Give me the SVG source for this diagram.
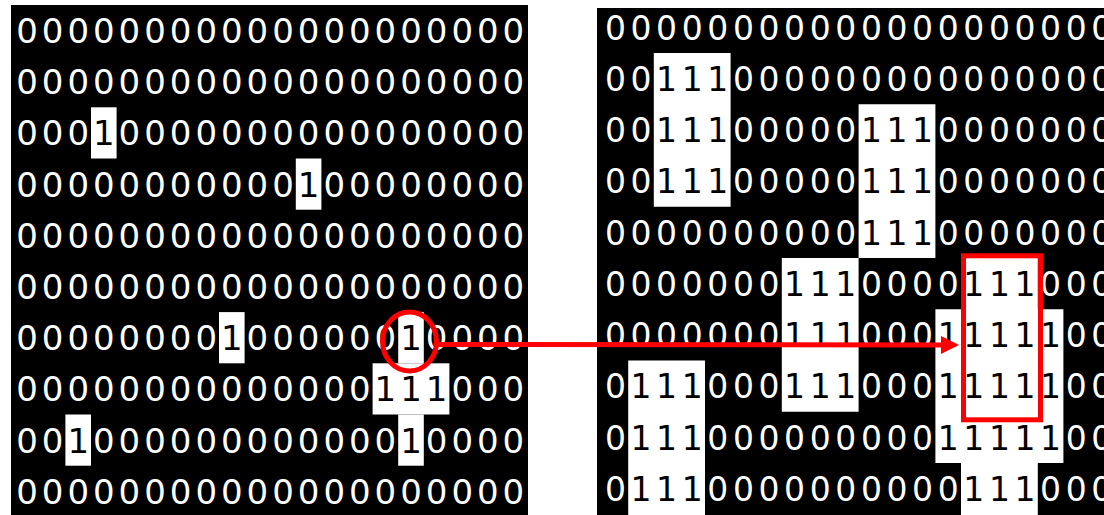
<svg xmlns="http://www.w3.org/2000/svg" width="1104" height="515" viewBox="0 0 1104 515">
<style>
.bg{fill:#000}
.hl{fill:#fff}
.d{font-family:"DejaVu Sans",sans-serif;fill:#fff;text-anchor:middle}
.dl{font-size:34px}
.dr{font-size:33px}
.one{fill:#000}
.red{fill:none;stroke:#ff0000;stroke-width:5}
</style>
<defs>
<marker id="ah" viewBox="0 0 18 18" refX="0" refY="9" markerWidth="18" markerHeight="18" markerUnits="userSpaceOnUse" orient="auto">
<path d="M0,0 L18,9 L0,18 Z" fill="#ff0000"/>
</marker>
</defs>
<rect width="1104" height="515" fill="#fff"/>
<g id="left-grid">
<rect class="bg" x="11" y="5" width="517" height="510"/>
<rect class="hl" x="91" y="107.3" width="25.6" height="51.2"/>
<rect class="hl" x="295.8" y="158.5" width="25.6" height="51.2"/>
<rect class="hl" x="219" y="312.1" width="25.6" height="51.2"/>
<rect class="hl" x="398.2" y="312.1" width="25.6" height="51.2"/>
<rect class="hl" x="372.6" y="363.3" width="76.8" height="51.2"/>
<rect class="hl" x="65.4" y="414.5" width="25.6" height="51.2"/>
<rect class="hl" x="398.2" y="414.5" width="25.6" height="51.2"/>
<g class="d dl">
<text x="27 52.6 78.2 103.8 129.4 155 180.6 206.2 231.8 257.4 283 308.6 334.2 359.8 385.4 411 436.6 462.2 487.8 513.4" y="42.9">00000000000000000000</text>
<text x="27 52.6 78.2 103.8 129.4 155 180.6 206.2 231.8 257.4 283 308.6 334.2 359.8 385.4 411 436.6 462.2 487.8 513.4" y="94.1">00000000000000000000</text>
<text x="27 52.6 78.2 103.8 129.4 155 180.6 206.2 231.8 257.4 283 308.6 334.2 359.8 385.4 411 436.6 462.2 487.8 513.4" y="145.3">000<tspan class="one">1</tspan>0000000000000000</text>
<text x="27 52.6 78.2 103.8 129.4 155 180.6 206.2 231.8 257.4 283 308.6 334.2 359.8 385.4 411 436.6 462.2 487.8 513.4" y="196.5">00000000000<tspan class="one">1</tspan>00000000</text>
<text x="27 52.6 78.2 103.8 129.4 155 180.6 206.2 231.8 257.4 283 308.6 334.2 359.8 385.4 411 436.6 462.2 487.8 513.4" y="247.7">00000000000000000000</text>
<text x="27 52.6 78.2 103.8 129.4 155 180.6 206.2 231.8 257.4 283 308.6 334.2 359.8 385.4 411 436.6 462.2 487.8 513.4" y="298.9">00000000000000000000</text>
<text x="27 52.6 78.2 103.8 129.4 155 180.6 206.2 231.8 257.4 283 308.6 334.2 359.8 385.4 411 436.6 462.2 487.8 513.4" y="350.1">00000000<tspan class="one">1</tspan>000000<tspan class="one">1</tspan>0000</text>
<text x="27 52.6 78.2 103.8 129.4 155 180.6 206.2 231.8 257.4 283 308.6 334.2 359.8 385.4 411 436.6 462.2 487.8 513.4" y="401.3">00000000000000<tspan class="one">111</tspan>000</text>
<text x="27 52.6 78.2 103.8 129.4 155 180.6 206.2 231.8 257.4 283 308.6 334.2 359.8 385.4 411 436.6 462.2 487.8 513.4" y="452.5">00<tspan class="one">1</tspan>000000000000<tspan class="one">1</tspan>0000</text>
<text x="27 52.6 78.2 103.8 129.4 155 180.6 206.2 231.8 257.4 283 308.6 334.2 359.8 385.4 411 436.6 462.2 487.8 513.4" y="503.7">00000000000000000000</text>
</g>
</g>
<g id="right-grid">
<rect class="bg" x="597" y="8" width="507" height="507"/>
<rect class="hl" x="653.8" y="53" width="76.8" height="153.75"/>
<rect class="hl" x="858.6" y="104.25" width="76.8" height="153.75"/>
<rect class="hl" x="781.8" y="258" width="76.8" height="153.75"/>
<rect class="hl" x="628.2" y="360.5" width="76.8" height="154.5"/>
<rect class="hl" x="961" y="258" width="76.8" height="257"/>
<rect class="hl" x="935.4" y="309.25" width="128" height="153.75"/>
<g class="d dr">
<text x="615.4 641 666.6 692.2 717.8 743.4 769 794.6 820.2 845.8 871.4 897 922.6 948.2 973.8 999.4 1025 1050.6 1076.2 1101.8" y="39.5">00000000000000000000</text>
<text x="615.4 641 666.6 692.2 717.8 743.4 769 794.6 820.2 845.8 871.4 897 922.6 948.2 973.8 999.4 1025 1050.6 1076.2 1101.8" y="90.75">00<tspan class="one">111</tspan>000000000000000</text>
<text x="615.4 641 666.6 692.2 717.8 743.4 769 794.6 820.2 845.8 871.4 897 922.6 948.2 973.8 999.4 1025 1050.6 1076.2 1101.8" y="142">00<tspan class="one">111</tspan>00000<tspan class="one">111</tspan>0000000</text>
<text x="615.4 641 666.6 692.2 717.8 743.4 769 794.6 820.2 845.8 871.4 897 922.6 948.2 973.8 999.4 1025 1050.6 1076.2 1101.8" y="193.25">00<tspan class="one">111</tspan>00000<tspan class="one">111</tspan>0000000</text>
<text x="615.4 641 666.6 692.2 717.8 743.4 769 794.6 820.2 845.8 871.4 897 922.6 948.2 973.8 999.4 1025 1050.6 1076.2 1101.8" y="244.5">0000000000<tspan class="one">111</tspan>0000000</text>
<text x="615.4 641 666.6 692.2 717.8 743.4 769 794.6 820.2 845.8 871.4 897 922.6 948.2 973.8 999.4 1025 1050.6 1076.2 1101.8" y="295.75">0000000<tspan class="one">111</tspan>0000<tspan class="one">111</tspan>000</text>
<text x="615.4 641 666.6 692.2 717.8 743.4 769 794.6 820.2 845.8 871.4 897 922.6 948.2 973.8 999.4 1025 1050.6 1076.2 1101.8" y="347">0000000<tspan class="one">111</tspan>000<tspan class="one">11111</tspan>00</text>
<text x="615.4 641 666.6 692.2 717.8 743.4 769 794.6 820.2 845.8 871.4 897 922.6 948.2 973.8 999.4 1025 1050.6 1076.2 1101.8" y="398.25">0<tspan class="one">111</tspan>000<tspan class="one">111</tspan>000<tspan class="one">11111</tspan>00</text>
<text x="615.4 641 666.6 692.2 717.8 743.4 769 794.6 820.2 845.8 871.4 897 922.6 948.2 973.8 999.4 1025 1050.6 1076.2 1101.8" y="449.5">0<tspan class="one">111</tspan>000000000<tspan class="one">11111</tspan>00</text>
<text x="615.4 641 666.6 692.2 717.8 743.4 769 794.6 820.2 845.8 871.4 897 922.6 948.2 973.8 999.4 1025 1050.6 1076.2 1101.8" y="500.75">0<tspan class="one">111</tspan>0000000000<tspan class="one">111</tspan>000</text>
</g>
</g>
<g id="source-marker">
<ellipse class="red" cx="409.5" cy="341.5" rx="27" ry="29.5"/>
</g>
<g id="target-marker">
<rect class="red" x="963.5" y="255.8" width="77" height="164"/>
</g>
<g id="connectors">
<line x1="436.5" y1="344.5" x2="941" y2="345" stroke="#ff0000" stroke-width="5" marker-end="url(#ah)"/>
</g>
</svg>
